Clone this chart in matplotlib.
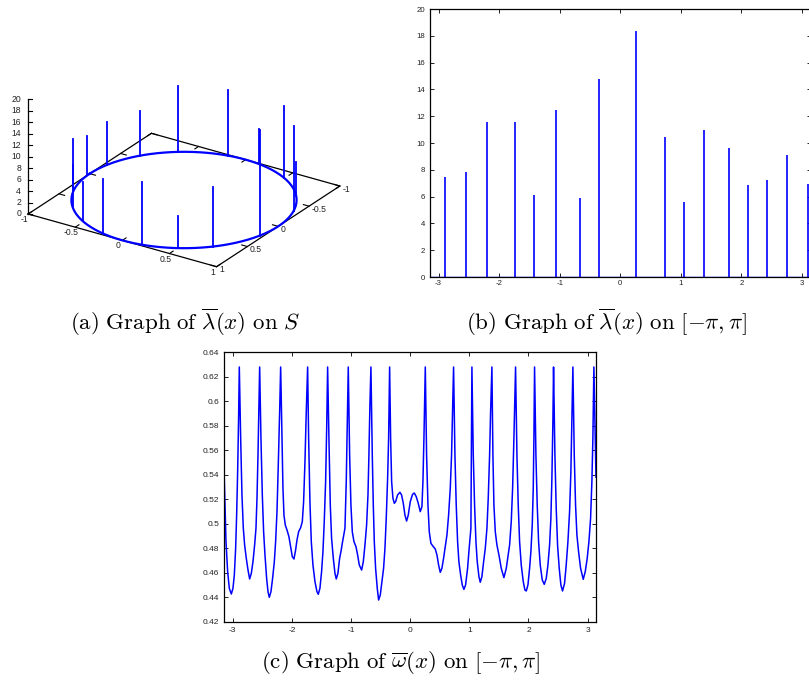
import numpy as np
import matplotlib
matplotlib.use('Agg')
import matplotlib.pyplot as plt

plt.rcParams['font.family'] = ['Liberation Sans', 'DejaVu Sans']
plt.rcParams['mathtext.fontset'] = 'cm'

# spikes of lambda-bar: position on [-pi, pi] and height
lam_x = [-2.900, -2.554, -2.207, -1.745, -1.426, -1.057, -0.672, -0.352, 0.253,
         0.732, 1.046, 1.376, 1.789, 2.108, 2.422, 2.747, 3.099]
lam_h = [7.48, 7.80, 11.55, 11.55, 6.14, 12.50, 5.91, 14.76, 18.36,
         10.46, 5.59, 11.00, 9.59, 6.88, 7.23, 9.09, 6.96]

# omega-bar curve
om_x = [-3.1416, -3.113, -3.085, -3.057, -3.023, -2.995, -2.972, -2.950, -2.933, -2.916, -2.899, -2.888,
        -2.865, -2.843, -2.820, -2.798, -2.770, -2.741, -2.713, -2.685, -2.657, -2.629, -2.606, -2.589, -2.572, -2.556, -2.544,
        -2.522, -2.499, -2.477, -2.454, -2.426, -2.403, -2.381, -2.353, -2.325, -2.296, -2.274, -2.251, -2.229, -2.206, -2.189,
        -2.167, -2.150, -2.133, -2.111, -2.077, -2.049, -2.020, -1.992, -1.964, -1.936, -1.913, -1.885, -1.851, -1.823, -1.801, -1.778, -1.756, -1.733,
        -1.716, -1.694, -1.671, -1.643, -1.609, -1.575, -1.553, -1.525, -1.497, -1.474, -1.452, -1.429, -1.412, -1.395,
        -1.373, -1.350, -1.328, -1.299, -1.271, -1.249, -1.221, -1.192, -1.170, -1.142, -1.102, -1.080, -1.063, -1.046,
        -1.023, -1.001, -0.978, -0.950, -0.916, -0.888, -0.860, -0.820, -0.792, -0.764, -0.736, -0.713, -0.697, -0.680, -0.663,
        -0.640, -0.623, -0.606, -0.584, -0.556, -0.533, -0.505, -0.477, -0.449, -0.426, -0.404, -0.381, -0.364, -0.347,
        -0.330, -0.313, -0.291, -0.268, -0.246, -0.212, -0.173, -0.145, -0.116, -0.088, -0.060, -0.032, 0.002, 0.041, 0.070,
        0.103, 0.137, 0.171, 0.199, 0.216, 0.233, 0.256,
        0.278, 0.301, 0.323, 0.351, 0.391, 0.424, 0.453, 0.481, 0.509, 0.537, 0.565, 0.593, 0.622, 0.650, 0.678, 0.700, 0.717, 0.734,
        0.757, 0.779, 0.802, 0.824, 0.853, 0.881, 0.909, 0.937, 0.971, 0.993, 1.027, 1.036, 1.044,
        1.067, 1.089, 1.112, 1.134, 1.163, 1.185, 1.213, 1.242, 1.270, 1.298, 1.320, 1.343, 1.360, 1.382,
        1.399, 1.416, 1.439, 1.467, 1.501, 1.540, 1.585, 1.625, 1.653, 1.681, 1.709, 1.732, 1.754, 1.782,
        1.805, 1.827, 1.850, 1.878, 1.912, 1.940, 1.963, 1.991, 2.019, 2.041, 2.064, 2.081, 2.092, 2.103,
        2.126, 2.148, 2.171, 2.199, 2.233, 2.267, 2.301, 2.329, 2.357, 2.379, 2.396, 2.413, 2.424,
        2.447, 2.469, 2.492, 2.520, 2.548, 2.576, 2.610, 2.638, 2.667, 2.695, 2.717, 2.734, 2.751,
        2.774, 2.796, 2.819, 2.847, 2.881, 2.926, 2.960, 2.993, 3.022, 3.050, 3.072, 3.089, 3.106, 3.123, 3.1416]
om_y = [0.536, 0.4854, 0.4609, 0.4473, 0.4426, 0.4473, 0.4582, 0.4799, 0.5071, 0.5425, 0.5888, 0.628,
        0.5698, 0.5235, 0.4963, 0.4826, 0.4718, 0.4622, 0.4549, 0.4595, 0.4690, 0.4826, 0.4963, 0.5208, 0.5561, 0.5970, 0.628,
        0.5698, 0.5235, 0.4935, 0.4745, 0.4554, 0.4445, 0.4399, 0.4445, 0.4554, 0.4690, 0.4854, 0.5099, 0.5480, 0.5915, 0.628,
        0.5698, 0.5289, 0.5071, 0.4990, 0.4941, 0.4894, 0.4813, 0.4731, 0.4712, 0.4786, 0.4867, 0.4935, 0.4968, 0.5017, 0.5180, 0.5507, 0.5915, 0.628,
        0.5698, 0.5180, 0.4854, 0.4663, 0.4527, 0.4445, 0.4424, 0.4473, 0.4609, 0.4772, 0.5017, 0.5344, 0.5752, 0.628,
        0.5698, 0.5153, 0.4881, 0.4718, 0.4595, 0.4549, 0.4595, 0.4718, 0.4772, 0.4854, 0.4963, 0.5344, 0.5834, 0.628,
        0.5561, 0.5153, 0.4935, 0.4854, 0.4813, 0.4745, 0.4663, 0.4622, 0.4690, 0.4826, 0.4990, 0.5235, 0.5561, 0.5970, 0.628,
        0.5561, 0.5153, 0.4854, 0.4636, 0.4473, 0.4377, 0.4418, 0.4527, 0.4636, 0.4799, 0.5044, 0.5371, 0.5698, 0.628,
        0.5698, 0.5344, 0.5208, 0.5167, 0.5180, 0.5235, 0.5257, 0.5235, 0.5167, 0.5071, 0.5022, 0.5071, 0.5180, 0.5240, 0.5251,
        0.5221, 0.5167, 0.5099, 0.5139, 0.5344, 0.5698, 0.628,
        0.5561, 0.5153, 0.4935, 0.4840, 0.4813, 0.4794, 0.4745, 0.4663, 0.4603, 0.4636, 0.4718, 0.4813, 0.4908, 0.5071, 0.5289, 0.5561, 0.5915, 0.628,
        0.5561, 0.5153, 0.4854, 0.4690, 0.4582, 0.4500, 0.4464, 0.4500, 0.4636, 0.4772, 0.4963, 0.5600, 0.628,
        0.5561, 0.5153, 0.4854, 0.4690, 0.4568, 0.4522, 0.4568, 0.4690, 0.4799, 0.4963, 0.5208, 0.5561, 0.5915, 0.628,
        0.5561, 0.5153, 0.4935, 0.4826, 0.4745, 0.4636, 0.4560, 0.4636, 0.4731, 0.4826, 0.5017, 0.5289, 0.5698, 0.628,
        0.5561, 0.5153, 0.4854, 0.4663, 0.4527, 0.4459, 0.4451, 0.4500, 0.4636, 0.4772, 0.4990, 0.5289, 0.5698, 0.628,
        0.5561, 0.5153, 0.4854, 0.4663, 0.4541, 0.4505, 0.4554, 0.4663, 0.4826, 0.5044, 0.5371, 0.5834, 0.628,
        0.5561, 0.5126, 0.4826, 0.4636, 0.4500, 0.4451, 0.4513, 0.4663, 0.4854, 0.5099, 0.5425, 0.5834, 0.628,
        0.5561, 0.5153, 0.4908, 0.4772, 0.4636, 0.4546, 0.4609, 0.4718, 0.4854, 0.5044, 0.5344, 0.5698, 0.628, 0.5834, 0.538]

pi_ticks = [-3, -2, -1, 0, 1, 2, 3]
pi_labels = ['-3', '-2', '-1', '0', '1', '2', '3']
lam_ticks = [0, 2, 4, 6, 8, 10, 12, 14, 16, 18, 20]
om_ticks = [0.42, 0.44, 0.46, 0.48, 0.50, 0.52, 0.54, 0.56, 0.58, 0.60, 0.62, 0.64]
om_labels = ['0.42', '0.44', '0.46', '0.48', '0.5', '0.52', '0.54', '0.56', '0.58', '0.6', '0.62', '0.64']
s_ticks = [-1, -0.5, 0, 0.5, 1]
s_labels = ['-1', '-0.5', '0', '0.5', '1']

W, H = 809, 689
fig = plt.figure(figsize=(W / 100, H / 100), dpi=100)
blue = '#0000ff'
tick_col = '#222222'


def proj(x, y, z):
    # fixed oblique view of the 3d box, result in screen pixels
    x, y, z = np.asarray(x, float), np.asarray(y, float), np.asarray(z, float)
    u = 94.2 * x - 61.65 * y
    v = -26.35 * x - 40.35 * y + 5.73 * z
    return u, v


# (a) lambda on the circle S
ax_a = fig.add_axes([0, (H - 300) / H, 400 / W, 240 / H])
ax_a.set_xlim(-184, 216)
ax_a.set_ylim(-100, 140)
ax_a.axis('off')

bx = [-1, 1, 1, -1, -1]
by = [1, 1, -1, -1, 1]
u, v = proj(bx, by, [0] * 5)
ax_a.plot(u, v, color='black', lw=0.9)
u, v = proj([-1, -1], [1, 1], [0, 20])
ax_a.plot(u, v, color='black', lw=0.9)
for zt in lam_ticks:
    u, v = proj(-1, 1, zt)
    ax_a.plot([u, u + 3.5], [v, v], color='black', lw=0.8)
    ax_a.text(u - 7, v, str(zt), ha='right', va='center', fontsize=6.2, color=tick_col)
for t, lab in zip(s_ticks, s_labels):
    for yy, sgn in [(1, -1), (-1, 1)]:
        u0, v0 = proj(t, yy, 0)
        u1, v1 = proj(t, yy + sgn * 0.06, 0)
        ax_a.plot([u0, u1], [v0, v1], color='black', lw=0.8)
    u0, v0 = proj(t, 1, 0)
    ax_a.text(u0 - 4, v0 - 5.5, lab, ha='center', va='center', fontsize=6.2, color=tick_col)
    for xx, sgn in [(1, -1), (-1, 1)]:
        u0, v0 = proj(xx, t, 0)
        u1, v1 = proj(xx + sgn * 0.06, t, 0)
        ax_a.plot([u0, u1], [v0, v1], color='black', lw=0.8)
    u0, v0 = proj(1, t, 0)
    ax_a.text(u0 + 2.5, v0 - 3, lab, ha='left', va='center', fontsize=6.2, color=tick_col)

th = np.linspace(-np.pi, np.pi, 400)
u, v = proj(np.cos(th), np.sin(th), np.zeros_like(th))
ax_a.plot(u, v, color=blue, lw=1.6)
for t, h in zip(lam_x, lam_h):
    u, v = proj([np.cos(t)] * 2, [np.sin(t)] * 2, [0, h])
    ax_a.plot(u, v, color=blue, lw=1.3)


def style(ax, size):
    for s in ax.spines.values():
        s.set_linewidth(0.9)
    ax.tick_params(direction='in', top=True, right=True, length=3, width=0.6,
                   labelsize=size, labelcolor=tick_col)


# (b) lambda on [-pi, pi]
ax_b = fig.add_axes([430 / W, (H - 277) / H, 380.6 / W, 268 / H])
ax_b.vlines(lam_x, 0, lam_h, color=blue, lw=1.2)
ax_b.axhline(0, color=blue, lw=1.0)
ax_b.set_xlim(-np.pi, np.pi)
ax_b.set_ylim(0, 20)
ax_b.set_xticks(pi_ticks)
ax_b.set_xticklabels(pi_labels)
ax_b.set_yticks(lam_ticks)
ax_b.set_yticklabels([str(t) for t in lam_ticks])
style(ax_b, 5.6)
ax_b.tick_params(axis='x', pad=2.5)
ax_b.tick_params(axis='y', pad=3.5)

# (c) omega on [-pi, pi]
ax_c = fig.add_axes([224.3 / W, (H - 621.7) / H, 371.7 / W, 269.4 / H])
ax_c.plot(om_x, om_y, color=blue, lw=1.1)
ax_c.set_xlim(-np.pi, np.pi)
ax_c.set_ylim(0.42, 0.64)
ax_c.set_xticks(pi_ticks)
ax_c.set_xticklabels(pi_labels)
ax_c.set_yticks(om_ticks)
ax_c.set_yticklabels(om_labels)
style(ax_c, 6.0)
ax_c.tick_params(axis='x', pad=3.5)
ax_c.tick_params(axis='y', pad=3.5)

# captions
cap = dict(ha='center', va='baseline', fontsize=16.5)
fig.text(185 / W, (H - 330) / H, r'$\mathrm{(a)\ Graph\ of\ }\overline{\lambda}(x)\mathrm{\ on\ }S$', **cap)
fig.text(607 / W, (H - 330) / H, r'$\mathrm{(b)\ Graph\ of\ }\overline{\lambda}(x)\mathrm{\ on\ }[-\pi,\pi]$', **cap)
fig.text(401 / W, (H - 668) / H, r'$\mathrm{(c)\ Graph\ of\ }\overline{\omega}(x)\mathrm{\ on\ }[-\pi,\pi]$', **cap)

fig.savefig('out.png', dpi=100)
